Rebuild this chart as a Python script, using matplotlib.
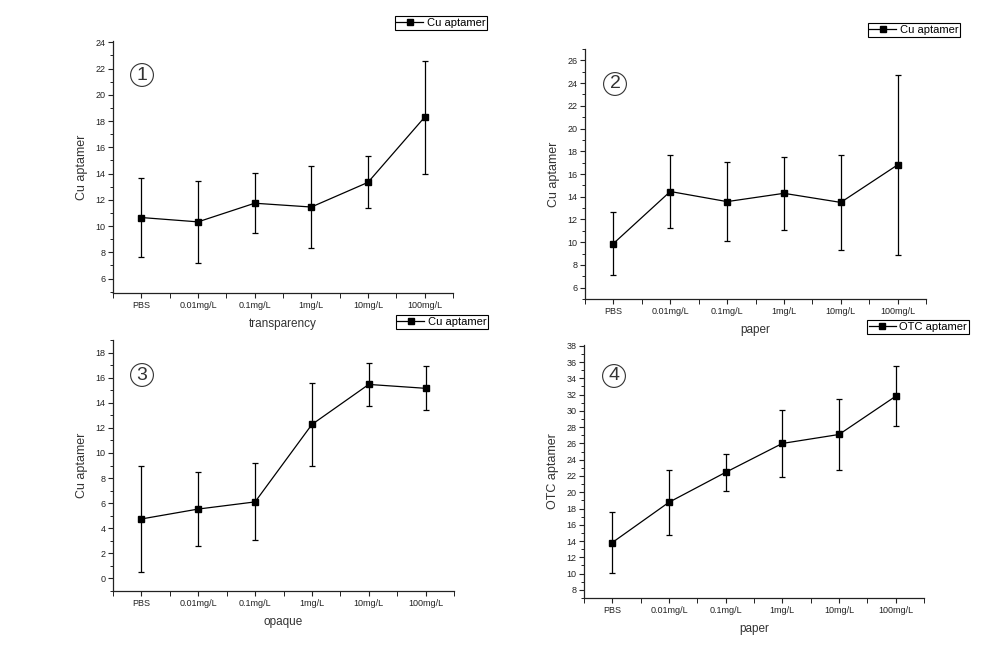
import matplotlib
matplotlib.use('Agg')
import matplotlib.pyplot as plt
from matplotlib.lines import Line2D
from matplotlib.ticker import MultipleLocator, FixedLocator

plt.rcParams['font.family'] = ['Liberation Sans', 'DejaVu Sans']

categories = ['PBS', '0.01mg/L', '0.1mg/L', '1mg/L', '10mg/L', '100mg/L']

# panel 1: transparency, Cu aptamer
p1_mean = [10.65, 10.32, 11.74, 11.45, 13.33, 18.3]
p1_err = [3.0, 3.1, 2.28, 3.1, 1.99, 4.3]
# panel 2: paper, Cu aptamer
p2_mean = [9.88, 14.46, 13.57, 14.3, 13.5, 16.8]
p2_err = [2.8, 3.17, 3.48, 3.23, 4.2, 7.9]
# panel 3: opaque, Cu aptamer
p3_mean = [4.74, 5.53, 6.1, 12.27, 15.46, 15.15]
p3_err = [4.24, 2.94, 3.06, 3.3, 1.7, 1.76]
# panel 4: paper, OTC aptamer
p4_mean = [13.82, 18.77, 22.45, 26.0, 27.1, 31.8]
p4_err = [3.76, 3.99, 2.3, 4.13, 4.35, 3.7]

W, H = 999, 665
fig = plt.figure(figsize=(W / 100, H / 100), dpi=100)


def px_axes(l, r, t, b):
    return fig.add_axes([l / W, (H - b) / H, (r - l) / W, (b - t) / H])


panels = [
    # mean, err, rect, ylim, yticks, xlabel, ylabel, number, legend label, legend pos, number pos
    (p1_mean, p1_err, (113, 453, 41, 293), (4.9, 24.1), range(6, 25, 2),
     'transparency', 'Cu aptamer', '1', 'Cu aptamer', (441, 23), (142, 75)),
    (p2_mean, p2_err, (585, 926, 49, 299), (5, 27), range(6, 27, 2),
     'paper', 'Cu aptamer', '2', 'Cu aptamer', (914, 30), (615, 84)),
    (p3_mean, p3_err, (113, 454, 340, 591), (-1, 19), range(0, 19, 2),
     'opaque', 'Cu aptamer', '3', 'Cu aptamer', (442, 322), (142, 375)),
    (p4_mean, p4_err, (584, 924, 345, 598), (7, 38.1), range(8, 39, 2),
     'paper', 'OTC aptamer', '4', 'OTC aptamer', (918, 327), (614, 376)),
]

x = list(range(1, len(categories) + 1))
for mean, err, rect, ylim, yticks, xlab, ylab, num, leg, legpos, numpos in panels:
    ax = px_axes(*rect)
    ax.errorbar(x, mean, yerr=err, color='black', lw=0.9, elinewidth=0.9,
                capsize=2.5, capthick=0.9, marker='s', markersize=4.5)
    ax.set_xlim(0.5, 6.5)
    ax.set_ylim(*ylim)
    ax.set_xticks(x)
    ax.set_xticklabels(categories)
    ax.xaxis.set_minor_locator(FixedLocator([i + 0.5 for i in range(0, 7)]))
    ax.set_yticks(list(yticks))
    ax.yaxis.set_minor_locator(MultipleLocator(1))
    for s in ['top', 'right']:
        ax.spines[s].set_visible(False)
    for s in ['left', 'bottom']:
        ax.spines[s].set_linewidth(0.9)
        ax.spines[s].set_color('#222222')
    ax.tick_params(axis='both', which='major', labelsize=6.5, length=3.5,
                   width=0.8, colors='#222222', pad=2)
    ax.tick_params(axis='both', which='minor', length=2.5, width=0.7,
                   colors='#222222')
    ax.tick_params(axis='x', which='minor', length=3.5)
    ax.set_xlabel(xlab, fontsize=8.5, color='#333333', labelpad=6)
    ax.set_ylabel(ylab, fontsize=9, color='#333333', labelpad=5)
    handle = Line2D([], [], color='black', lw=0.9, marker='s', markersize=4)
    lg = ax.legend([handle], [leg], loc='center',
                   bbox_to_anchor=(legpos[0] / W, 1 - legpos[1] / H),
                   bbox_transform=fig.transFigure, fontsize=8, frameon=True,
                   fancybox=False, edgecolor='black', borderpad=0.15,
                   handlelength=2.4, handletextpad=0.35, borderaxespad=0,
                   framealpha=1)
    lg.get_frame().set_linewidth(0.8)
    fig.text(numpos[0] / W, 1 - numpos[1] / H, num, fontsize=14, color='#333333',
             ha='center', va='center',
             bbox=dict(boxstyle='circle,pad=0.15', fc='white', ec='#333333', lw=0.8))

fig.savefig('out.png', dpi=100)
